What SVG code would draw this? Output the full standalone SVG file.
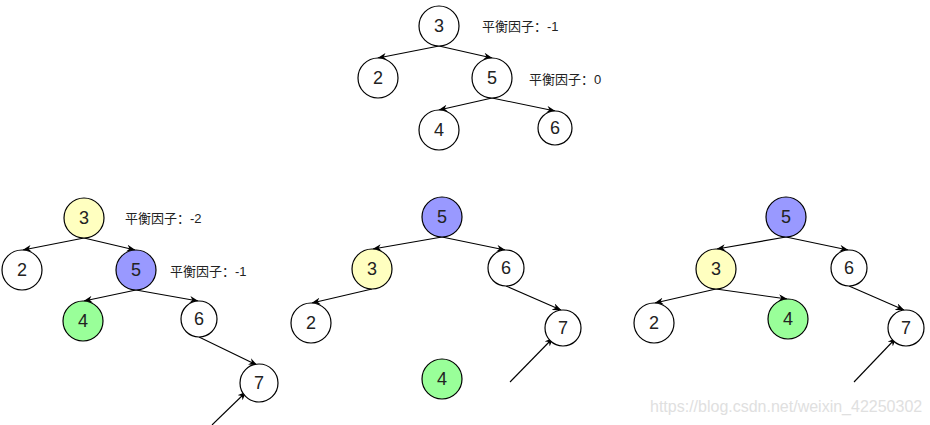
<svg xmlns="http://www.w3.org/2000/svg" width="930" height="425" viewBox="0 0 930 425">
<style>
.n{stroke:#000;stroke-width:1.2;fill:#fff}
.y{fill:#ffffc0}
.b{fill:#9999ff}
.g{fill:#99ff99}
.t{font-family:"Liberation Sans",Arial,sans-serif;font-size:18px;fill:#222;text-anchor:middle;dominant-baseline:central}
.lbl{font-family:"Liberation Sans","Noto Sans CJK SC",sans-serif;font-size:13px;fill:#222}
.e{stroke:#000;stroke-width:1.1;fill:none;marker-end:url(#arr)}
.wm{font-family:"Liberation Sans",Arial,sans-serif;font-size:16px;fill:#e0e0e0}
</style>
<defs>
<marker id="arr" viewBox="0 0 10 8" markerWidth="9" markerHeight="7" refX="9.5" refY="4" orient="auto" markerUnits="userSpaceOnUse">
<path d="M0,0 L10,4 L0,8 L3,4 z" fill="#000"/>
</marker>
</defs>
<rect width="930" height="425" fill="#fff"/>
<g id="connectors">
<line class="e" x1="439" y1="46" x2="378" y2="58"/>
<line class="e" x1="439" y1="46" x2="492" y2="58"/>
<line class="e" x1="492" y1="98" x2="439" y2="110"/>
<line class="e" x1="492" y1="98" x2="555" y2="111"/>
<line class="e" x1="84" y1="238" x2="23" y2="250"/>
<line class="e" x1="84" y1="238" x2="135" y2="250"/>
<line class="e" x1="136" y1="290" x2="84" y2="301"/>
<line class="e" x1="136" y1="290" x2="198" y2="301"/>
<line class="e" x1="199" y1="337" x2="257" y2="365"/>
<line class="e" x1="212" y1="425" x2="246" y2="392"/>
<line class="e" x1="442" y1="237" x2="373" y2="249"/>
<line class="e" x1="442" y1="237" x2="505" y2="250"/>
<line class="e" x1="372" y1="289" x2="312" y2="303"/>
<line class="e" x1="506" y1="286" x2="561" y2="310"/>
<line class="e" x1="510" y1="382" x2="553" y2="338"/>
<line class="e" x1="786" y1="237" x2="717" y2="249"/>
<line class="e" x1="786" y1="237" x2="848" y2="250"/>
<line class="e" x1="716" y1="289" x2="655" y2="303"/>
<line class="e" x1="716" y1="289" x2="787" y2="299"/>
<line class="e" x1="849" y1="286" x2="904" y2="310"/>
<line class="e" x1="854" y1="382" x2="896" y2="338"/>
</g>
<g id="top-3"><circle class="n" cx="439" cy="26" r="20"/><text class="t" x="439" y="26">3</text></g>
<g id="top-2"><circle class="n" cx="378" cy="78" r="20"/><text class="t" x="378" y="78">2</text></g>
<g id="top-5"><circle class="n" cx="492" cy="78" r="20"/><text class="t" x="492" y="78">5</text></g>
<g id="top-4"><circle class="n" cx="439" cy="130" r="20"/><text class="t" x="439" y="130">4</text></g>
<g id="top-6"><circle class="n" cx="555" cy="128" r="17"/><text class="t" x="555" y="128">6</text></g>
<g id="top-lbl1"><text class="lbl" x="482" y="31">平衡因子：-1</text></g>
<g id="top-lbl2"><text class="lbl" x="529" y="84">平衡因子：0</text></g>

<g id="l-3"><circle class="n y" cx="84" cy="218" r="20"/><text class="t" x="84" y="218">3</text></g>
<g id="l-2"><circle class="n" cx="22" cy="270" r="20"/><text class="t" x="22" y="270">2</text></g>
<g id="l-5"><circle class="n b" cx="136" cy="270" r="20"/><text class="t" x="136" y="270">5</text></g>
<g id="l-4"><circle class="n g" cx="83" cy="321" r="20"/><text class="t" x="83" y="321">4</text></g>
<g id="l-6"><circle class="n" cx="199" cy="319" r="18"/><text class="t" x="199" y="319">6</text></g>
<g id="l-7"><circle class="n" cx="259" cy="383" r="19"/><text class="t" x="259" y="383">7</text></g>
<g id="l-lbl1"><text class="lbl" x="125" y="223">平衡因子：-2</text></g>
<g id="l-lbl2"><text class="lbl" x="170" y="276">平衡因子：-1</text></g>

<g id="m-5"><circle class="n b" cx="442" cy="217" r="20"/><text class="t" x="442" y="217">5</text></g>
<g id="m-3"><circle class="n y" cx="372" cy="269" r="20"/><text class="t" x="372" y="269">3</text></g>
<g id="m-6"><circle class="n" cx="506" cy="268" r="18"/><text class="t" x="506" y="268">6</text></g>
<g id="m-2"><circle class="n" cx="311" cy="323" r="20"/><text class="t" x="311" y="323">2</text></g>
<g id="m-7"><circle class="n" cx="563" cy="328" r="18"/><text class="t" x="563" y="328">7</text></g>
<g id="m-4"><circle class="n g" cx="442" cy="379" r="20"/><text class="t" x="442" y="379">4</text></g>

<g id="r-5"><circle class="n b" cx="786" cy="217" r="20"/><text class="t" x="786" y="217">5</text></g>
<g id="r-3"><circle class="n y" cx="716" cy="269" r="20"/><text class="t" x="716" y="269">3</text></g>
<g id="r-6"><circle class="n" cx="849" cy="268" r="18"/><text class="t" x="849" y="268">6</text></g>
<g id="r-2"><circle class="n" cx="654" cy="323" r="20"/><text class="t" x="654" y="323">2</text></g>
<g id="r-4"><circle class="n g" cx="788" cy="319" r="20"/><text class="t" x="788" y="319">4</text></g>
<g id="r-7"><circle class="n" cx="906" cy="328" r="18"/><text class="t" x="906" y="328">7</text></g>

<text class="wm" x="650" y="412">https://blog.csdn.net/weixin_42250302</text>
</svg>
